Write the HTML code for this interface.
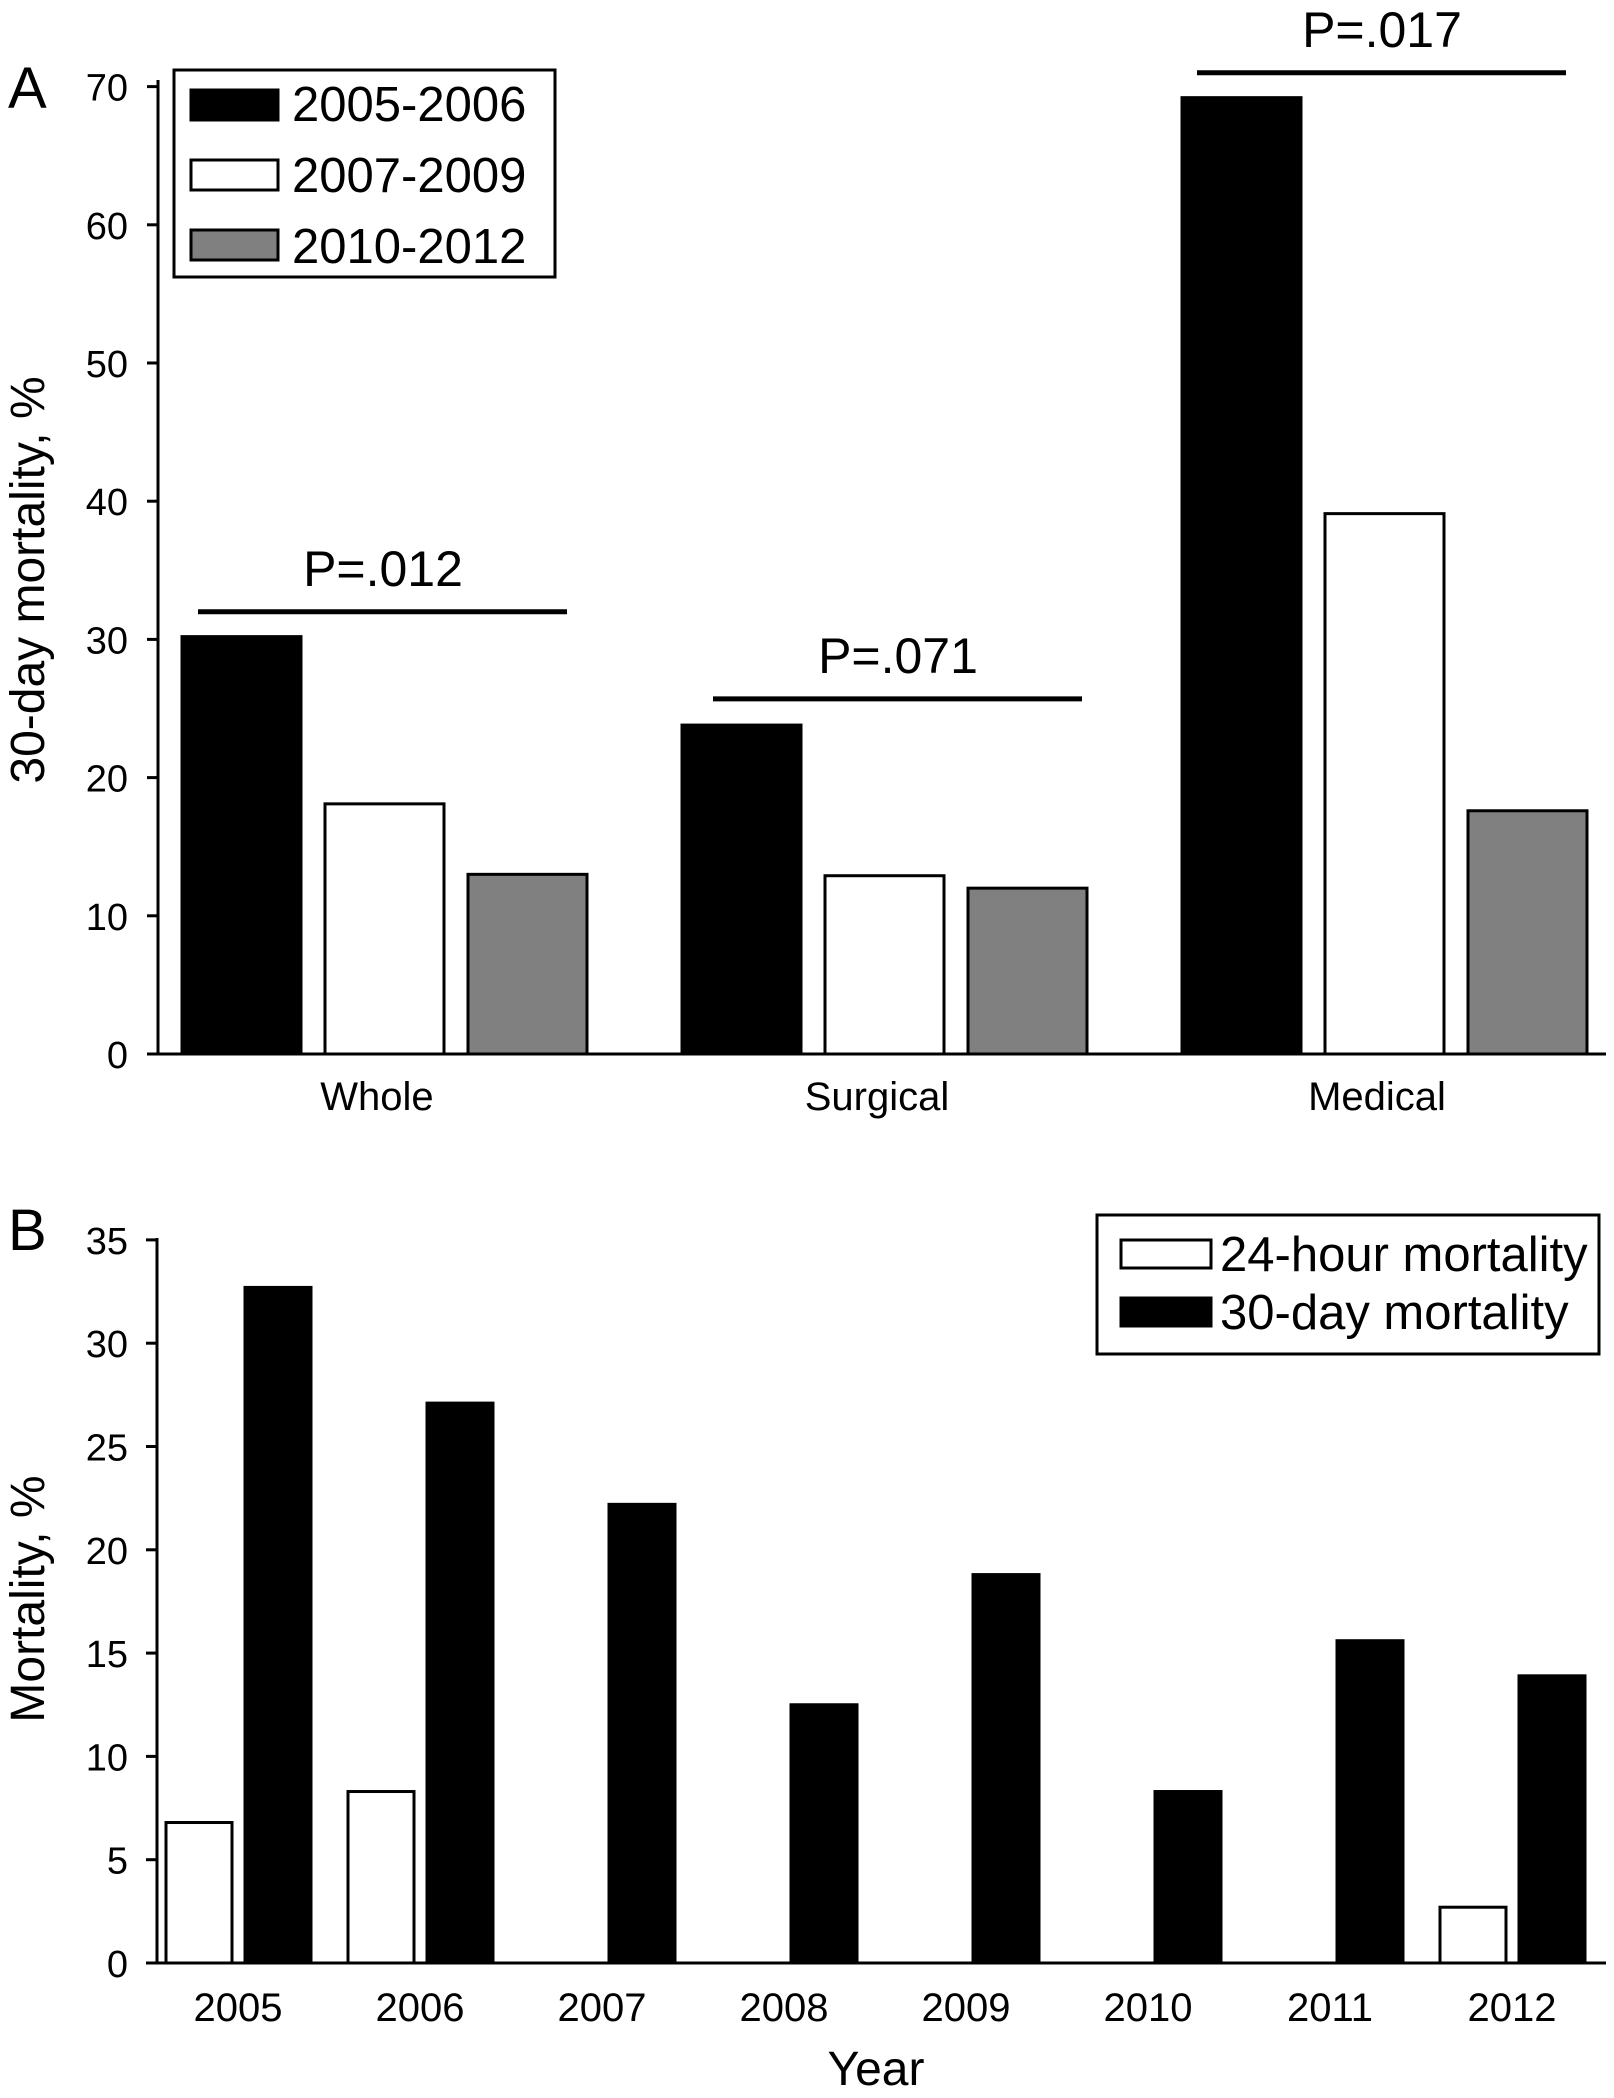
<!DOCTYPE html>
<html><head><meta charset="utf-8"><style>
html,body{margin:0;padding:0;background:#fff}
svg{display:block}
text{font-family:"Liberation Sans Narrow","Liberation Sans",sans-serif;fill:#000}
.w{font-family:"Liberation Sans",sans-serif}
</style></head><body>
<svg id="chart" width="1614" height="2098" viewBox="0 0 1614 2098" xmlns="http://www.w3.org/2000/svg"></svg>
<script>
const catsA = ["Whole", "Surgical", "Medical"];
const seriesA1 = [30.2, 23.8, 69.2];
const seriesA2 = [18.1, 12.9, 39.1];
const seriesA3 = [13.0, 12.0, 17.6];
const ticksA = [0, 10, 20, 30, 40, 50, 60, 70];
const pLabels = ["P=.012", "P=.071", "P=.017"];
const pLevels = [32, 25.7, 71];
const years = ["2005","2006","2007","2008","2009","2010","2011","2012"];
const hour24 = [6.8, 8.3, 0, 0, 0, 0, 0, 2.7];
const day30 = [32.7, 27.1, 22.2, 12.5, 18.8, 8.3, 15.6, 13.9];
const ticksB = [0, 5, 10, 15, 20, 25, 30, 35];

const svg = document.getElementById('chart');
const NS = 'http://www.w3.org/2000/svg';
function mk(tag, attrs, parent){const e=document.createElementNS(NS,tag);for(const k in attrs)e.setAttribute(k,attrs[k]);(parent||svg).appendChild(e);return e;}
function txt(s, attrs, parent){const e=mk('text',attrs,parent);e.textContent=s;return e;}

// ---- Chart A ----
const yA = v => 1054 - v*13.82;
const xA = (g, s) => 182 + g*500 + s*143;
const bracketOff = [16, 31, 15];
const gA = mk('g',{});


let t = txt('A',{x:8,y:108,'font-size':58,class:'w'},gA);


ticksA.forEach(v=>{
  const l=mk('line',{x1:147,x2:158,y1:yA(v),y2:yA(v),stroke:'#000','stroke-width':3},gA);
  
  
  const tt=txt(String(v),{x:128,y:yA(v)+14,'font-size':38,'text-anchor':'end'},gA);
  
  
});
const fills=['#000','#fff','#808080'];
[seriesA1,seriesA2,seriesA3].forEach((ser,s)=>{
  ser.forEach((v,g)=>{
    const r=mk('rect',{x:xA(g,s),y:yA(v),width:119,height:yA(0)-yA(v),fill:fills[s],stroke:'#000','stroke-width':3},gA);
    
    
  });
});
catsA.forEach((c,g)=>{
  const tt=txt(c,{x:xA(g,1)+52,y:1110,'font-size':40,'text-anchor':'middle'},gA);
  
  
  const x1=xA(g,0)+bracketOff[g];
  const l=mk('line',{x1:x1,x2:x1+369,y1:yA(pLevels[g]),y2:yA(pLevels[g]),stroke:'#000','stroke-width':5},gA);
  
  
  const p=txt(pLabels[g],{x:x1+185,y:yA(pLevels[g])-26,'font-size':50,'text-anchor':'middle'},gA);
  
  
});
let ax=mk('path',{d:'M158 80 V1054 H1606',fill:'none',stroke:'#000','stroke-width':3},gA);


let yl=txt('30-day mortality, %',{x:0,y:0,'font-size':48,'text-anchor':'middle',class:'w',transform:'translate(44,580) rotate(-90)'},gA);


const legA=mk('g',{},gA);


mk('rect',{x:174,y:70,width:381,height:207,fill:'#fff',stroke:'#000','stroke-width':3},legA);
['2005-2006','2007-2009','2010-2012'].forEach((s,i)=>{
  const sw=mk('rect',{x:191,y:90+i*70,width:87,height:30,fill:fills[i],stroke:'#000','stroke-width':3},legA);
  
  
  const lt=txt(s,{x:292,y:121+i*71,'font-size':49},legA);
  
  
});

// ---- Chart B ----
const yB = v => 1963 - v*20.66;
const xB = i => 166 + i*182;
const gB = mk('g',{});


t = txt('B',{x:8,y:1250,'font-size':58,class:'w'},gB);


ticksB.forEach(v=>{
  const l=mk('line',{x1:146,x2:157,y1:yB(v),y2:yB(v),stroke:'#000','stroke-width':3},gB);
  
  
  const tt=txt(String(v),{x:128,y:yB(v)+14,'font-size':38,'text-anchor':'end'},gB);
  
  
});
years.forEach((y,i)=>{
  const a=mk('rect',{x:xB(i),y:yB(hour24[i]),width:66,height:yB(0)-yB(hour24[i]),fill:'#fff',stroke:'#000','stroke-width':3},gB);
  
  
  const b=mk('rect',{x:xB(i)+79,y:yB(day30[i]),width:66,height:yB(0)-yB(day30[i]),fill:'#000',stroke:'#000','stroke-width':3},gB);
  
  
  const tt=txt(y,{x:xB(i)+72,y:2021,'font-size':40,'text-anchor':'middle'},gB);
  
  
});
ax=mk('path',{d:'M157 1238 V1963 H1606',fill:'none',stroke:'#000','stroke-width':3},gB);


yl=txt('Mortality, %',{x:0,y:0,'font-size':48,'text-anchor':'middle',class:'w',transform:'translate(44,1599) rotate(-90)'},gB);


const xl=txt('Year',{x:876,y:2085,'font-size':48,'text-anchor':'middle'},gB);


const legB=mk('g',{},gB);


mk('rect',{x:1097,y:1215,width:502,height:139,fill:'#fff',stroke:'#000','stroke-width':3},legB);
['24-hour mortality','30-day mortality'].forEach((s,i)=>{
  const sw=mk('rect',{x:1121,y:1240+i*58,width:90,height:28,fill:i?'#000':'#fff',stroke:'#000','stroke-width':3},legB);
  
  
  const lt=txt(s,{x:1220,y:1271+i*58,'font-size':49},legB);
  
  
});
</script>
</body></html>
